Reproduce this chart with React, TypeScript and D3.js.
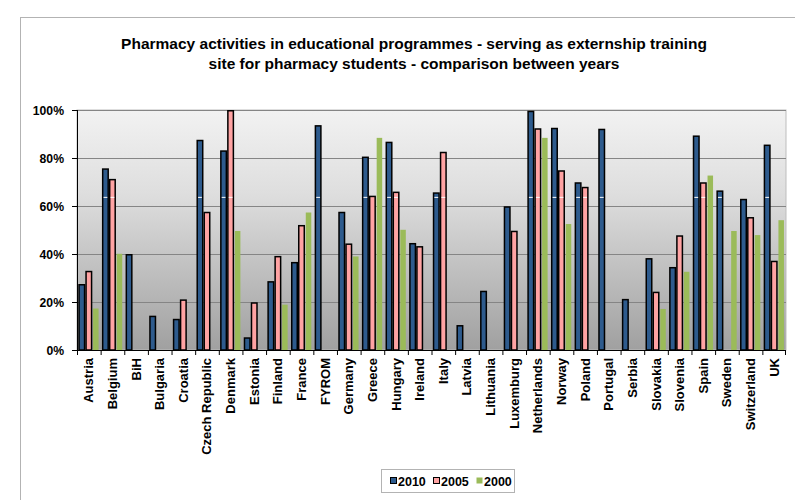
import React from 'react';
import * as d3 from 'd3';

const countries = [
  'Austria', 'Belgium', 'BiH', 'Bulgaria', 'Croatia', 'Czech Republic', 'Denmark', 'Estonia',
  'Finland', 'France', 'FYROM', 'Germany', 'Greece', 'Hungary', 'Ireland', 'Italy', 'Latvia',
  'Lithuania', 'Luxemburg', 'Netherlands', 'Norway', 'Poland', 'Portugal', 'Serbia', 'Slovakia',
  'Slovenia', 'Spain', 'Sweden', 'Switzerland', 'UK',
];

const years = ['2010', '2005', '2000'];

// null = no bar
const v2010 = [27.5, 75.7, 40, 14.3, 13, 87.6, 83.2, 5.3, 28.7, 36.7, 93.7, 57.6, 80.6, 86.8, 44.6, 65.7, 10.4, 24.7, 59.9, 99.7, 92.6, 69.9, 92.2, 21.3, 38.3, 34.6, 89.4, 66.5, 63, 85.6];
const v2005 = [33, 71.3, null, null, 21.1, 57.6, 100, 19.9, 39.2, 52.1, null, 44.4, 64.3, 66, 43.3, 82.6, null, null, 49.7, 92.4, 74.9, 68, null, null, 24.3, 47.8, 69.9, null, 55.4, 37.2];
const v2000 = [17.6, 40.4, null, null, null, null, 49.9, null, 19.2, 57.6, null, 39.3, 88.7, 50.4, null, null, null, null, null, 88.7, 52.8, null, null, null, 17.4, 32.9, 73, 49.9, 48.2, 54.4];

const yTicks = [0, 20, 40, 60, 80, 100];

const colors: Record<string, string> = { '2010': '#2e5b8d', '2005': '#ffa3a3', '2000': '#9bbb59' };
const outlined: Record<string, boolean> = { '2010': true, '2005': true, '2000': false };

const W = 795;
const H = 500;
const plot = { left: 77, right: 786, top: 110, bottom: 350 };

export default function App() {
  const x = d3.scaleBand<string>()
    .domain(countries)
    .range([plot.left, plot.right])
    .paddingInner(0.11)
    .paddingOuter(0.055);

  const xs = d3.scaleBand<string>().domain(years).range([0, x.bandwidth()]);

  const y = d3.scaleLinear().domain([0, 100]).range([plot.bottom, plot.top]);

  const seriesValues: Record<string, (number | null)[]> = { '2010': v2010, '2005': v2005, '2000': v2000 };
  const font = 'Arial, "Liberation Sans", sans-serif';
  const glossY = y(63.6);
  const step = x.step();

  return (
    <svg width={W} height={H} style={{ position: 'absolute', left: 0, top: 0, background: '#fff' }} fontFamily={font}>
      <defs>
        <linearGradient id="plotbg" x1="0" y1="0" x2="0" y2="1">
          <stop offset="0" stopColor="#f2f2f2" />
          <stop offset="0.35" stopColor="#dedede" />
          <stop offset="1" stopColor="#a0a0a0" />
        </linearGradient>
      </defs>

      <rect x={20.5} y={17.5} width={820} height={520} fill="#fff" stroke="#b3b3b3" />

      <text x={414} y={49} textAnchor="middle" fontSize={15.5} fontWeight="bold" fill="#000">
        Pharmacy activities in educational programmes - serving as externship training
      </text>
      <text x={414} y={69} textAnchor="middle" fontSize={15.5} fontWeight="bold" fill="#000">
        site for pharmacy students - comparison between years
      </text>

      <rect x={plot.left} y={plot.top} width={plot.right - plot.left} height={plot.bottom - plot.top}
        fill="url(#plotbg)" stroke="#bdbdbd" />

      {yTicks.filter(t => t > 0).map(t => (
        <line key={t} x1={plot.left} x2={plot.right} y1={y(t) + 0.5} y2={y(t) + 0.5} stroke="#858585" />
      ))}

      {years.map(yr => (
        <g key={yr}>
          {countries.map((c, i) => {
            const v = seriesValues[yr][i];
            if (v == null) return null;
            const bx = (x(c) as number) + (xs(yr) as number);
            const bw = xs.bandwidth();
            const top = y(v);
            return (
              <g key={c}>
                <rect x={bx + 0.75} y={top + 0.75} width={bw - 1.5} height={plot.bottom - top - 0.75}
                  fill={colors[yr]} stroke={outlined[yr] ? '#000' : 'none'} strokeWidth={1.5} />
                {outlined[yr] && v > 64.5 && (
                  <line x1={bx + 1.6} x2={bx + bw - 1.6} y1={glossY} y2={glossY} stroke="#fff" strokeWidth={1} />
                )}
              </g>
            );
          })}
        </g>
      ))}

      {/* axes */}
      <line x1={plot.left + 0.5} x2={plot.left + 0.5} y1={plot.top} y2={plot.bottom} stroke="#000" />
      <line x1={plot.left} x2={plot.right} y1={plot.bottom + 0.5} y2={plot.bottom + 0.5} stroke="#000" />
      {yTicks.map(t => (
        <g key={t}>
          <line x1={plot.left - 5} x2={plot.left} y1={y(t) + 0.5} y2={y(t) + 0.5} stroke="#000" />
          <text x={64} y={y(t) + 4.5} textAnchor="end" fontSize={12.2} fontWeight="bold">{t}%</text>
        </g>
      ))}
      {countries.map((c, i) => (
        <line key={c} x1={plot.left + i * step + 0.5} x2={plot.left + i * step + 0.5}
          y1={plot.bottom} y2={plot.bottom + 5} stroke="#000" />
      ))}
      <line x1={plot.right - 0.5} x2={plot.right - 0.5} y1={plot.bottom} y2={plot.bottom + 5} stroke="#000" />
      {countries.map(c => {
        const cx = (x(c) as number) + x.bandwidth() / 2;
        return (
          <text key={c} transform={`translate(${cx + 4.5},358) rotate(-90)`} textAnchor="end"
            fontSize={13} fontWeight="bold">{c}</text>
        );
      })}

      {/* legend */}
      <rect x={381.5} y={469.5} width={133} height={23} fill="#fff" stroke="#b3b3b3" />
      {years.map((yr, i) => {
        const lx = 390 + i * 43;
        return (
          <g key={yr}>
            <rect x={lx + 0.5} y={477.5} width={6} height={6} fill={colors[yr]}
              stroke={outlined[yr] ? '#000' : 'none'} />
            <text x={lx + 8} y={485.5} fontSize={12.5} fontWeight="bold">{yr}</text>
          </g>
        );
      })}
    </svg>
  );
}
